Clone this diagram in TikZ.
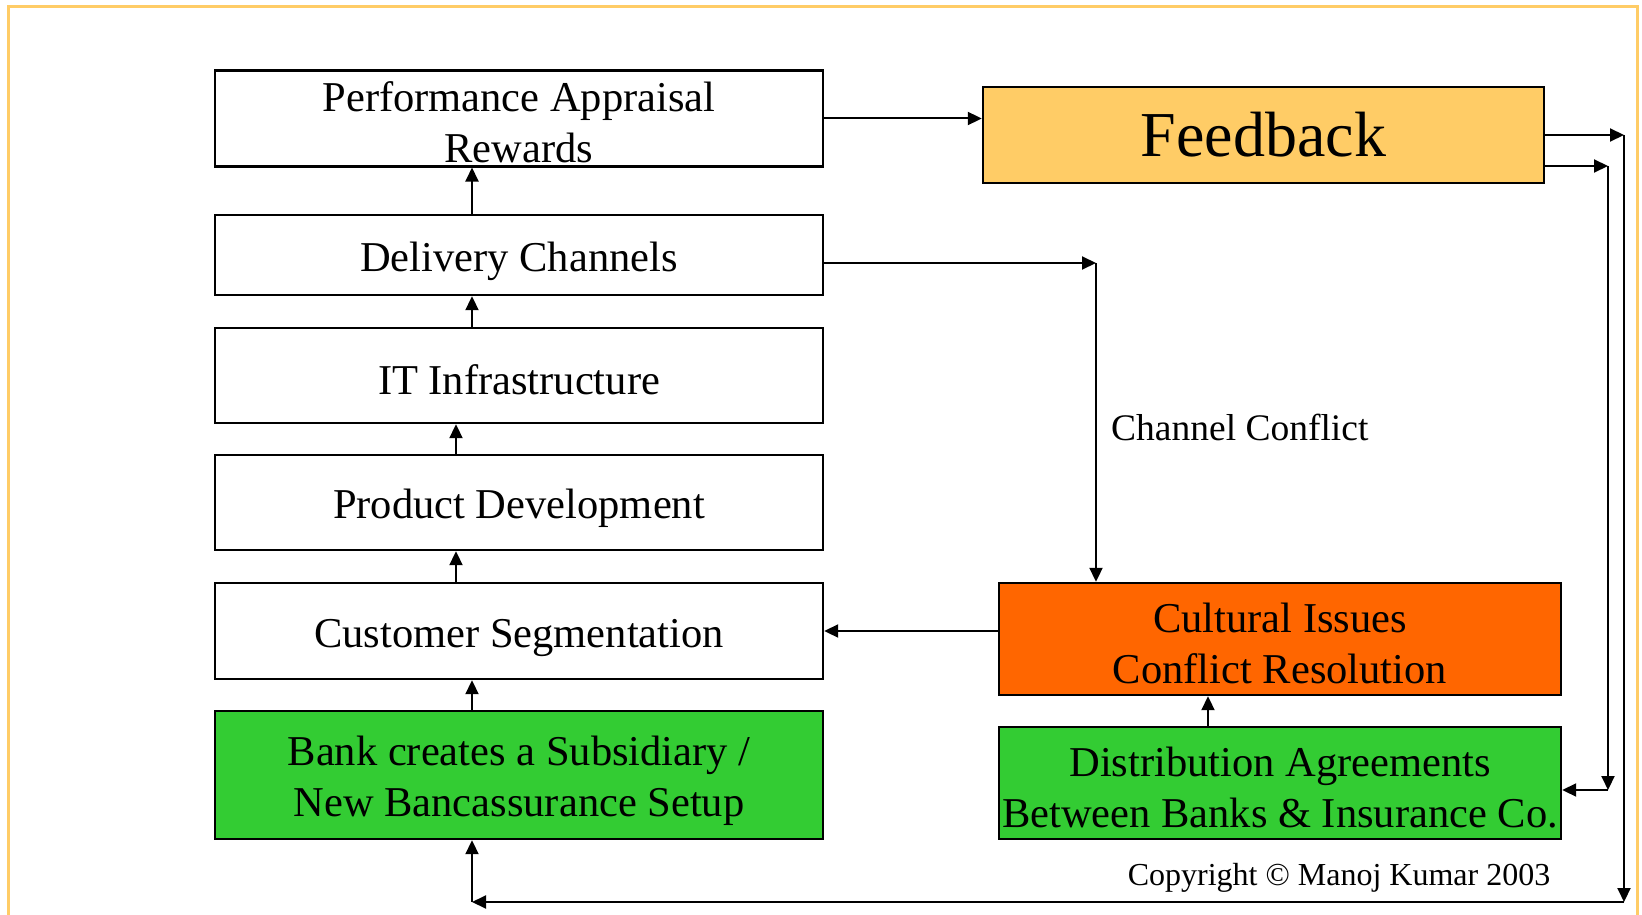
\documentclass[tikz,border=0pt]{standalone}
\usepackage{fontspec}
\setmainfont{Liberation Serif}
\usetikzlibrary{arrows.meta}

\definecolor{framecol}{HTML}{FFCC66}
\definecolor{fbfill}{HTML}{FFCC66}
\definecolor{orangefill}{HTML}{FF6600}
\definecolor{greenfill}{HTML}{33CC33}

% invisible strut giving every text line the same height and depth
\newcommand\boxstrut{\rule[-0.08em]{0pt}{1.05em}}

\tikzset{
  box/.style={draw=black, line width=2.4pt, fill=white, align=center,
    inner sep=0pt, font=\fontsize{42.5}{51}\selectfont},
  leftbox/.style={box, minimum width=608pt},
  rightbox/.style={box, minimum width=562pt},
  arr/.style={line width=2pt, -{Triangle[length=14pt,width=13pt]}},
}

\begin{document}
\begin{tikzpicture}[x=1pt, y=-1pt]
\useasboundingbox (0,0) rectangle (1642,915);

% outer frame (its bottom edge lies below the page)
\draw[framecol, line width=3pt] (8,930) -- (8,7) -- (1637,7) -- (1637,930);

% left column
\node[leftbox, minimum height=95pt]  (perf)  at (519,118.5) {Performance Appraisal\boxstrut\\Rewards\boxstrut};
\node[leftbox, minimum height=80pt]  (deliv) at (519,255)   {Delivery Channels\boxstrut};
\node[leftbox, minimum height=95pt]  (it)    at (519,375.5) {IT Infrastructure\boxstrut};
\node[leftbox, minimum height=95pt]  (prod)  at (519,502.5) {Product Development\boxstrut};
\node[leftbox, minimum height=96pt]  (cust)  at (519,631)   {Customer Segmentation\boxstrut};
\node[leftbox, minimum height=128pt, fill=greenfill] (bank) at (519,775)
  {Bank creates a Subsidiary /\boxstrut\\New Bancassurance Setup\boxstrut};

% right column
\node[box, minimum width=561pt, minimum height=96pt, fill=fbfill,
      font=\fontsize{64}{70}\selectfont] (fb) at (1263.5,135) {Feedback};
\node[rightbox, minimum height=112pt, fill=orangefill] (cult) at (1280,639)
  {Cultural Issues\boxstrut\\Conflict Resolution\boxstrut};
\node[rightbox, minimum height=112pt, fill=greenfill] (dist) at (1280,783)
  {Distribution Agreements\boxstrut\\Between Banks \& Insurance Co.\boxstrut};

% labels
\node[anchor=west, inner sep=0pt, font=\fontsize{37.5}{42}\selectfont] (cc) at (1111,427) {Channel Conflict};
\node[inner sep=0pt, font=\fontsize{32}{36}\selectfont] (copy) at (1339,878) {Copyright \textcopyright{} Manoj Kumar 2003};

% corner points of the routed connectors
\coordinate (c1) at (1096,263);
\coordinate (c2) at (1624,135);
\coordinate (c3) at (1608,166);
\coordinate (c4) at (1608,790);
\coordinate (c5) at (1624,902);
\coordinate (c6) at (472,902);

% upward chain on the left
\draw[arr] ([xshift=-47pt]bank.north)  -- ([xshift=-47pt]cust.south);
\draw[arr] ([xshift=-63pt]cust.north)  -- ([xshift=-63pt]prod.south);
\draw[arr] ([xshift=-63pt]prod.north)  -- ([xshift=-63pt]it.south);
\draw[arr] ([xshift=-47pt]it.north)    -- ([xshift=-47pt]deliv.south);
\draw[arr] ([xshift=-47pt]deliv.north) -- ([xshift=-47pt]perf.south);

% performance to feedback
\draw[arr] (perf.east) -- (perf.east -| fb.west);

% channel conflict route
\draw[arr] (deliv.east |- c1) -- (c1);
\draw[arr] (c1) -- (c1 |- cult.north);

% cultural issues to customer segmentation
\draw[arr] (cult.west |- cust.east) -- (cust.east);

% distribution agreements to cultural issues
\draw[arr] ([xshift=-72pt]dist.north) -- ([xshift=-72pt]cult.south);

% feedback loops
\draw[arr] (fb.east |- c2) -- (c2);
\draw[arr] (fb.east |- c3) -- (c3);
\draw[arr] (c3) -- (c4);
\draw[arr] (c4) -- (dist.east |- c4);
\draw[arr] (c2) -- (c5);
\draw[arr] (c5) -- (c6);
\draw[arr] (c6) -- (c6 |- bank.south);
\end{tikzpicture}
\end{document}
